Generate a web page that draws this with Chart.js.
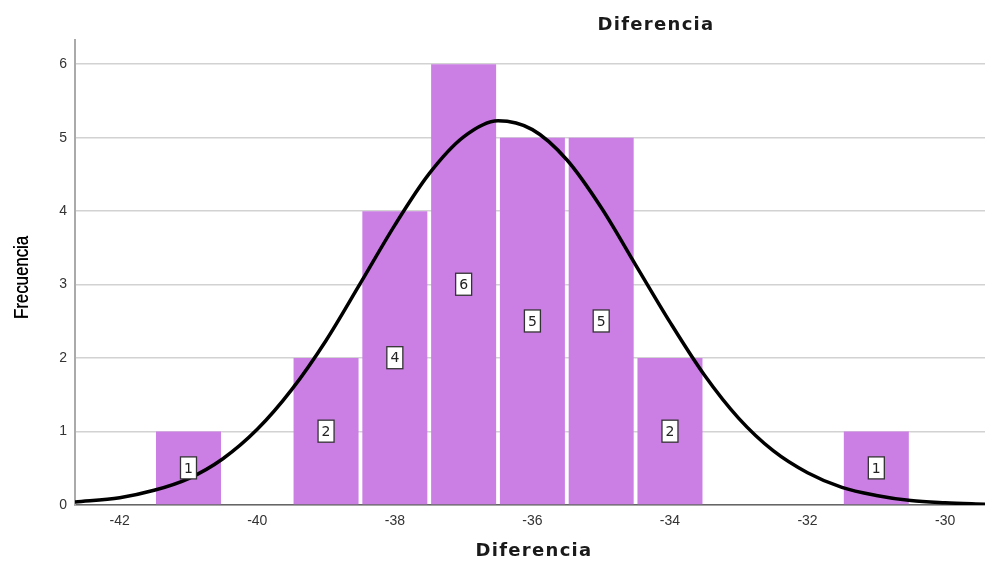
<!DOCTYPE html>
<html>
<head>
<meta charset="utf-8">
<script src="https://cdn.jsdelivr.net/npm/chart.js@4.4.1/dist/chart.umd.min.js"></script>
<style>
  html, body { margin: 0; padding: 0; background: #fff; }
  #wrap { width: 985px; height: 562px; }
</style>
</head>
<body>
<div id="wrap"><canvas id="histChart"></canvas></div>
<script>
// Histograma de Diferencia
const binCenters = [-41, -39, -38, -37, -36, -35, -34, -31];
const frecuencias = [1, 2, 4, 6, 5, 5, 2, 1];

// Curva normal
const curvaX = [-42.65, -42, -41.5, -41, -40.5, -40, -39.5, -39, -38.5, -38, -37.5, -37, -36.5,
                -36, -35.5, -35, -34.5, -34, -33.5, -33, -32.5, -32, -31.5, -31, -30.5, -30, -29.42];
const curvaY = [0.04, 0.10, 0.20, 0.36, 0.63, 1.03, 1.57, 2.24, 3.02, 3.81, 4.51, 5.01, 5.23,
                5.11, 4.70, 4.05, 3.27, 2.49, 1.77, 1.18, 0.74, 0.44, 0.24, 0.13, 0.06, 0.03, 0.01];

const xTicks = [-42, -40, -38, -36, -34, -32, -30];
const yTicks = [0, 1, 2, 3, 4, 5, 6];

const etiquetasBarras = {
    id: 'etiquetasBarras',
    afterDatasetsDraw(chart) {
        const ctx = chart.ctx;
        const meta = chart.getDatasetMeta(0);
        ctx.save();
        ctx.font = '14px "DejaVu Sans"';
        ctx.textAlign = 'center';
        ctx.textBaseline = 'middle';
        meta.data.forEach((bar, i) => {
            const cx = bar.x;
            const cy = (bar.y + bar.base) / 2;
            ctx.fillStyle = '#fff';
            ctx.fillRect(cx - 8, cy - 11, 16, 22);
            ctx.strokeStyle = '#333';
            ctx.lineWidth = 1.3;
            ctx.strokeRect(cx - 8, cy - 11, 16, 22);
            ctx.fillStyle = '#222';
            ctx.fillText(String(frecuencias[i]), cx, cy + 1);
        });
        ctx.restore();
    }
};

// Titulos: superior, eje X y eje Y (condensado)
const titulos = {
    id: 'titulos',
    afterDraw(chart) {
        const ctx = chart.ctx;
        const area = chart.chartArea;
        ctx.save();
        ctx.font = 'bold 18px "DejaVu Sans"';
        ctx.letterSpacing = '1.3px';
        ctx.fillStyle = '#1a1a1a';
        ctx.textAlign = 'center';
        ctx.textBaseline = 'middle';
        ctx.fillText('Diferencia', chart.width * 0.666, 25);
        ctx.fillText('Diferencia', (area.left + area.right) / 2 + 4, 551);
        ctx.restore();

        ctx.save();
        ctx.translate(22, (area.top + area.bottom) / 2 + 5);
        ctx.rotate(-Math.PI / 2);
        ctx.scale(0.8, 1);
        ctx.font = '21px "Liberation Sans", Arial';
        ctx.fillStyle = '#000';
        ctx.textAlign = 'center';
        ctx.textBaseline = 'middle';
        ctx.fillText('Frecuencia', 0, 0);
        ctx.fillText('Frecuencia', 0.4, 0);
        ctx.restore();
    }
};

document.addEventListener('DOMContentLoaded', () => {
    const ctx = document.getElementById('histChart').getContext('2d');
    new Chart(ctx, {
        data: {
            datasets: [{
                type: 'bar',
                label: 'Frecuencia',
                data: binCenters.map((x, i) => ({ x: x, y: frecuencias[i] })),
                backgroundColor: '#cb7fe5',
                barPercentage: 1,
                categoryPercentage: 0.945,
                order: 1
            }, {
                type: 'line',
                label: 'Normal',
                data: curvaX.map((x, i) => ({ x: x, y: curvaY[i] })),
                borderColor: '#000',
                borderWidth: 3.5,
                pointRadius: 0,
                cubicInterpolationMode: 'monotone',
                fill: false,
                order: 0
            }]
        },
        options: {
            responsive: true,
            maintainAspectRatio: false,
            animation: false,
            layout: { padding: { top: 40, right: 0, left: 0, bottom: 0 } },
            plugins: {
                legend: { display: false },
                tooltip: { enabled: false },
                title: { display: false }
            },
            scales: {
                x: {
                    type: 'linear',
                    min: -42.65,
                    max: -29.42,
                    offset: false,
                    afterBuildTicks: s => { s.ticks = xTicks.map(v => ({ value: v })); },
                    afterFit: s => { s.height = 57; },
                    grid: { display: false, drawTicks: false },
                    border: { display: true, color: '#666', width: 1.5 },
                    ticks: {
                        padding: 8,
                        color: '#333',
                        font: { family: '"Liberation Sans", Arial', size: 14 },
                        maxRotation: 0
                    },
                    title: { display: false }
                },
                y: {
                    min: 0,
                    max: 6.33,
                    afterBuildTicks: s => { s.ticks = yTicks.map(v => ({ value: v })); },
                    afterFit: s => { s.width = 75; },
                    grid: { color: '#d2d2d2', lineWidth: 1.5, drawTicks: false },
                    border: { display: true, color: '#aaa', width: 2 },
                    ticks: {
                        padding: 8,
                        color: '#333',
                        font: { family: '"Liberation Sans", Arial', size: 14 }
                    },
                    title: { display: false }
                }
            }
        },
        plugins: [etiquetasBarras, titulos]
    });
});
</script>
</body>
</html>
